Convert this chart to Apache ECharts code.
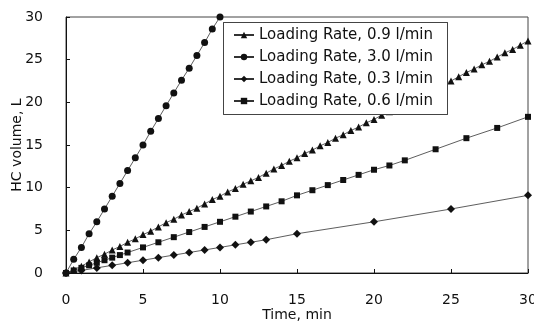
<!DOCTYPE html>
<html><head><meta charset="utf-8">
<script src="https://cdn.jsdelivr.net/npm/echarts@6/dist/echarts.min.js"></script>
<style>html,body{margin:0;padding:0;background:#fff}#c{width:534px;height:324px}</style>
</head><body><div id="c"></div>
<script>
const names = ['Loading Rate, 0.9 l/min','Loading Rate, 3.0 l/min','Loading Rate, 0.3 l/min','Loading Rate, 0.6 l/min'];
const xTicks = [0,5,10,15,20,25,30];
const yTicks = [0,5,10,15,20,25,30];

const t09 = [0,0.5,1,1.5,2,2.5,3,3.5,4,4.5,5,5.5,6,6.5,7,7.5,8,8.5,9,9.5,10,10.5,11,11.5,12,12.5,13,13.5,14,14.5,15,15.5,16,16.5,17,17.5,18,18.5,19,19.5,20,20.5,21,21.5,22,22.5,23,23.5,24,24.5,25,25.5,26,26.5,27,27.5,28,28.5,29,29.5,30];
const v09 = [0,0.4,0.8,1.3,1.8,2.2,2.7,3.1,3.6,4.0,4.5,4.9,5.4,5.9,6.3,6.8,7.2,7.6,8.1,8.6,9.0,9.5,9.9,10.4,10.8,11.2,11.7,12.2,12.6,13.1,13.5,14.0,14.4,14.9,15.3,15.8,16.2,16.7,17.1,17.6,18.0,18.5,18.9,19.4,19.8,20.3,20.7,21.2,21.6,22.1,22.5,23.0,23.5,23.9,24.4,24.8,25.3,25.8,26.2,26.7,27.2];

const t30 = [0,0.5,1,1.5,2,2.5,3,3.5,4,4.5,5,5.5,6,6.5,7,7.5,8,8.5,9,9.5,10];
const v30 = [0,1.6,3.0,4.6,6.0,7.5,9.0,10.5,12.0,13.5,15.0,16.6,18.1,19.6,21.1,22.6,24.0,25.5,27.0,28.6,30.0];

const t03 = [0,1,2,3,4,5,6,7,8,9,10,11,12,13,15,20,25,30];
const v03 = [0,0.3,0.6,0.9,1.2,1.5,1.8,2.1,2.4,2.7,3.0,3.3,3.6,3.9,4.6,6.0,7.5,9.1];

const t06 = [0,0.5,1,1.5,2,2.5,3,3.5,4,5,6,7,8,9,10,11,12,13,14,15,16,17,18,19,20,21,22,24,26,28,30];
const v06 = [0,0.3,0.6,0.9,1.2,1.5,1.8,2.1,2.4,3.0,3.6,4.2,4.8,5.4,6.0,6.6,7.2,7.8,8.4,9.1,9.7,10.3,10.9,11.5,12.1,12.6,13.2,14.5,15.8,17.0,18.3];

const pairs = (xs, ys) => xs.map((x, i) => [x, ys[i]]);
const font = '"DejaVu Sans", sans-serif';
const ink = '#111';

function ser(name, xs, ys, symbol, size) {
  return {
    name, type: 'line', data: pairs(xs, ys), symbol, symbolSize: size,
    lineStyle: { color: '#333', width: 0.8 },
    itemStyle: { color: ink },
    animation: false
  };
}

const bx = 223.5, by = 22.5, bw = 224, bh = 92;
const edge = (x1, y1, x2, y2) => ({
  type: 'line', z: 120, silent: true,
  shape: { x1, y1, x2, y2 },
  style: { stroke: '#444', lineWidth: 1 }
});

const chart = echarts.init(document.getElementById('c'), null, { renderer: 'canvas' });
chart.setOption({
  backgroundColor: '#fff',
  animation: false,
  grid: { left: 66, right: 6, top: 17, bottom: 51, show: true, borderColor: '#444', borderWidth: 1,
          containLabel: false, outerBoundsMode: 'none' },
  graphic: {
    elements: [{
      type: 'rect', x: bx, y: by, z: 50, silent: true,
      shape: { x: 0, y: 0, width: bw, height: bh },
      style: { fill: '#ffffff', stroke: '#444444', lineWidth: 1 }
    },
    edge(bx, by, bx + bw, by),
    edge(bx, by + bh, bx + bw, by + bh),
    edge(bx, by, bx, by + bh),
    edge(bx + bw, by, bx + bw, by + bh)]
  },
  legend: {
    orient: 'vertical', left: 223, top: 22, z: 100,
    data: names,
    padding: [5, 10, 5, 10], itemGap: 6, itemWidth: 20, itemHeight: 8,
    textStyle: { fontFamily: font, fontSize: 15, color: ink, padding: [0,0,0,0], lineHeight: 16 }
  },
  xAxis: {
    type: 'value', min: 0, max: 30, interval: 5,
    name: 'Time, min', nameLocation: 'middle', nameGap: 35, nameMoveOverlap: false,
    nameTextStyle: { fontFamily: font, fontSize: 14, color: ink },
    axisLine: { lineStyle: { color: ink, width: 1 } },
    axisTick: { inside: true, length: 4, lineStyle: { color: ink } },
    axisLabel: { fontFamily: font, fontSize: 14, color: ink, margin: 20,
      formatter: v => xTicks.includes(v) ? String(v) : '' },
    splitLine: { show: false }
  },
  yAxis: {
    type: 'value', min: 0, max: 30, interval: 5,
    name: 'HC volume, L', nameLocation: 'middle', nameGap: 42, nameMoveOverlap: false,
    nameTextStyle: { fontFamily: font, fontSize: 14, color: ink },
    axisLine: { show: true, lineStyle: { color: ink, width: 1 } },
    axisTick: { show: true, inside: true, length: 4, lineStyle: { color: ink } },
    axisLabel: { fontFamily: font, fontSize: 14, color: ink, margin: 23,
      formatter: v => yTicks.includes(v) ? String(v) : '' },
    splitLine: { show: false }
  },
  series: [
    ser(names[0], t09, v09, 'triangle', 7),
    ser(names[1], t30, v30, 'circle', 7),
    ser(names[2], t03, v03, 'diamond', 8),
    ser(names[3], t06, v06, 'rect', 6)
  ]
});
</script></body></html>
